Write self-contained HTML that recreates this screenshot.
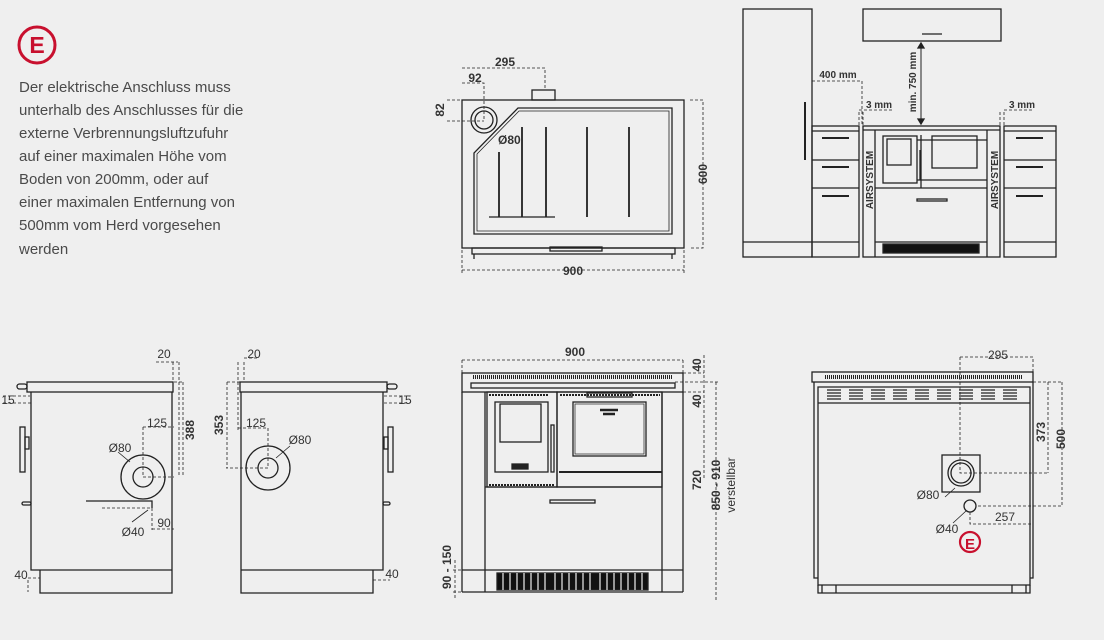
<!DOCTYPE html>
<html><head><meta charset="utf-8"><style>
html,body{margin:0;padding:0;background:#efefef}
svg{display:block}
.t{font-family:"Liberation Sans",sans-serif;font-weight:bold;font-size:12px;fill:#333}
.p{font-family:"Liberation Sans",sans-serif;font-size:15px;fill:#4a4a4a}
</style></head><body>
<svg width="1104" height="640" viewBox="0 0 1104 640" xmlns="http://www.w3.org/2000/svg">
<rect width="1104" height="640" fill="#efefef"/>
<!-- E logo -->
<circle cx="37" cy="45" r="18" fill="none" stroke="#c8102e" stroke-width="3"/>
<text x="37" y="53" text-anchor="middle" font-family="Liberation Sans" font-weight="bold" font-size="23" fill="#c8102e">E</text>
<g class="p">
<text x="19" y="92">Der elektrische Anschluss muss</text>
<text x="19" y="115">unterhalb des Anschlusses für die</text>
<text x="19" y="138">externe Verbrennungsluftzufuhr</text>
<text x="19" y="161">auf einer maximalen Höhe vom</text>
<text x="19" y="184">Boden von 200mm, oder auf</text>
<text x="19" y="207">einer maximalen Entfernung von</text>
<text x="19" y="230">500mm vom Herd vorgesehen</text>
<text x="19" y="254">werden</text>
</g>

<g fill="none" stroke="#222" stroke-width="1.3">
<!-- TOP VIEW -->
<rect x="462" y="100" width="222" height="148"/>
<rect x="532" y="90" width="23" height="10"/>
<path d="M474 234 V153 L518 108 H672 V234 Z"/>
<path d="M477 231 V154 L519 111 H669 V231 Z" stroke-width="0.8"/>
<circle cx="484" cy="120" r="13"/><circle cx="484" cy="120" r="9"/>
<path d="M499 152V217M522 127V217M546 127V217M587 127V217M629 127V217" stroke-width="1.8"/>
<path d="M489 217H555"/>
<rect x="472" y="248" width="203" height="6"/>
<rect x="550" y="247" width="52" height="4"/>
<path d="M474 254v5M672 254v5"/>
<!-- dims top -->
<g stroke-width="0.8" stroke-dasharray="3,2">
<path d="M462 68H545V90M462 83H484V120M447 100H462M447 121H484M690 100H703V248H690M462 250V274M684 250V274M462 270H684"/>
</g>

<!-- KITCHEN -->
<rect x="743" y="9" width="69" height="248"/>
<path d="M743 242H812"/>
<path d="M805 102V160" stroke-width="2"/>
<rect x="863" y="9" width="138" height="32"/>
<path d="M922 34H942"/>
<rect x="812" y="126" width="47" height="131"/>
<path d="M812 131H859M812 160H859M812 188H859M812 242H859"/>
<path d="M822 138H849M822 167H849M822 196H849" stroke-width="2"/>
<rect x="1004" y="126" width="52" height="131"/>
<path d="M1004 131H1056M1004 160H1056M1004 188H1056M1004 242H1056"/>
<path d="M1016 138H1043M1016 167H1043M1016 196H1043" stroke-width="2"/>
<rect x="863" y="126" width="137" height="131"/>
<path d="M863 130H1000M875 130V257M987 130V257M875 188H987M875 242H987"/>
<rect x="883" y="136" width="34" height="47"/><rect x="887" y="139" width="24" height="26"/>
<path d="M920 150V180M921 135V188"/>
<rect x="932" y="136" width="45" height="32"/>
<path d="M917 180H987M917 140H987"/>
<rect x="917" y="199" width="30" height="2"/>
<rect x="883" y="244" width="96" height="9" fill="#111"/>
<path d="M921 44V123" stroke-width="1"/>
<path d="M918 48L921 43L924 48Z M918 119L921 124L924 119Z" fill="#222"/>
<g stroke-width="0.8" stroke-dasharray="3,2">
<path d="M812 81H862V126M859 112V126M863 112V126M859 110H892M1000 112V126M1004 112V126M1004 110H1034"/>
</g>

<!-- FRONT VIEW -->
<rect x="462" y="373" width="221" height="19"/>
<path d="M473 377H672" stroke-width="4" stroke-dasharray="1,1"/>
<rect x="471" y="383" width="204" height="5"/>
<path d="M462 392V592M683 392V592M485 392V592M662 392V592M462 592H683M462 570H485M662 570H683"/>
<rect x="487" y="392" width="70" height="95"/>
<rect x="495" y="402" width="53" height="70"/><rect x="500" y="404" width="41" height="38"/>
<rect x="551" y="425" width="3" height="47"/>
<rect x="512" y="464" width="16" height="5" fill="#222"/>
<path d="M489 395H548M489 485H554" stroke-width="2" stroke-dasharray="2,1"/>
<rect x="557" y="392" width="105" height="95"/>
<rect x="573" y="402" width="73" height="54"/><rect x="575" y="404" width="69" height="50" stroke-width="0.7"/>
<path d="M559 472H662" stroke-width="2"/>
<path d="M560 395H660" stroke-width="2" stroke-dasharray="2,1"/>
<rect x="587" y="393" width="45" height="4"/>
<path d="M600 410L618 410M603 414H615" stroke-width="2.5"/>
<path d="M485 487H662M485 570H662"/>
<rect x="550" y="500" width="45" height="3"/>
<rect x="497" y="573" width="151" height="17" fill="#111"/>
<path d="M503 573V590M510 573V590M517 573V590M524 573V590M531 573V590M538 573V590M545 573V590M555 573V590M562 573V590M569 573V590M576 573V590M583 573V590M590 573V590M600 573V590M607 573V590M614 573V590M621 573V590M628 573V590M635 573V590M642 573V590" stroke="#efefef" stroke-width="1.2"/>
<g stroke-width="0.8" stroke-dasharray="3,2">
<path d="M462 360H683M462 360V373M683 360V373M683 373H704M683 392H704M704 355V480M675 382H720M716 382V600M453 570H462M453 592H462M455 560V600"/>
</g>

<!-- SIDE VIEW LEFT -->
<rect x="27" y="382" width="146" height="10"/>
<path d="M31 392V570H172V392M40 570V593H172V570"/>
<rect x="20" y="427" width="5" height="45"/><rect x="25" y="437" width="4" height="12"/>
<rect x="17" y="384" width="10" height="5" rx="2.5"/><rect x="22" y="502" width="9" height="3" rx="1.5"/>
<circle cx="143" cy="477" r="22"/><circle cx="143" cy="477" r="10"/>
<path d="M86 501H152V508"/>
<g stroke-width="0.8" stroke-dasharray="3,2">
<path d="M143 427V477H174M143 427H174M183 382V477M174 382H184M102 508H152M152 508V530M152 529H174M173 362V382M179 362V477M156 362H178M3 396H30M3 403H31M28 578H40M28 580V592"/>
</g>
<path d="M130 462L118 452M148 510L132 522" stroke-width="0.8"/>

<!-- SIDE VIEW RIGHT -->
<rect x="240" y="382" width="147" height="10"/>
<path d="M241 392V570H383V392M241 570V593H373V570"/>
<rect x="388" y="427" width="5" height="45"/><rect x="384" y="437" width="4" height="12"/>
<rect x="387" y="384" width="10" height="5" rx="2.5"/><rect x="383" y="502" width="7" height="3" rx="1.5"/>
<circle cx="268" cy="468" r="22"/><circle cx="268" cy="468" r="10"/>
<g stroke-width="0.8" stroke-dasharray="3,2">
<path d="M268 428V468H226M238 428H268M227 382V468M227 382H241M238 362V430M244 362V382M244 358H257M384 396H410M384 403H410M373 580H390"/>
</g>
<path d="M276 458L290 446" stroke-width="0.8"/>

<!-- BACK VIEW -->
<rect x="812" y="372" width="221" height="10"/>
<path d="M825 377H1022" stroke-width="4" stroke-dasharray="1,1"/>
<path d="M818 387H1030V585H818Z M818 403H1030 M814 382V578H818 M1033 382V578H1030"/>
<path d="M818 585V593H1030V585M822 585V593M1026 585V593M836 585V593M1012 585V593"/>
<g stroke-width="1.3">
<path d="M827 390h14M827 393h14M827 396h14M827 399h14 M849 390h14M849 393h14M849 396h14M849 399h14 M871 390h14M871 393h14M871 396h14M871 399h14 M893 390h14M893 393h14M893 396h14M893 399h14 M915 390h14M915 393h14M915 396h14M915 399h14 M937 390h14M937 393h14M937 396h14M937 399h14 M959 390h14M959 393h14M959 396h14M959 399h14 M981 390h14M981 393h14M981 396h14M981 399h14 M1003 390h14M1003 393h14M1003 396h14M1003 399h14"/>
</g>
<rect x="942" y="455" width="38" height="37"/>
<circle cx="961" cy="473" r="13"/><circle cx="961" cy="473" r="10"/>
<circle cx="970" cy="506" r="6"/>
<path d="M955 488L945 497M966 511L953 523" stroke-width="0.8"/>
<g stroke-width="0.8" stroke-dasharray="3,2">
<path d="M960 357V473H1048M960 357H1033V372M1033 382H1062M1048 382V473M1062 382V506H976M970 512V524H1033"/>
</g>
</g>
<circle cx="970" cy="542" r="10" fill="none" stroke="#c8102e" stroke-width="2.2"/>
<text x="970" y="549" text-anchor="middle" font-family="Liberation Sans" font-weight="bold" font-size="15" fill="#c8102e">E</text>

<g class="t">
<text x="505" y="66" text-anchor="middle">295</text>
<text x="475" y="82" text-anchor="middle">92</text>
<text transform="translate(444,110) rotate(-90)" text-anchor="middle">82</text>
<text x="498" y="144">Ø80</text>
<text transform="translate(707,174) rotate(-90)" text-anchor="middle">600</text>
<text x="573" y="275" text-anchor="middle" style="background:#efefef">900</text>
<text x="838" y="78" text-anchor="middle" font-size="10">400 mm</text>
<text x="879" y="108" text-anchor="middle" font-size="10">3 mm</text>
<text x="1022" y="108" text-anchor="middle" font-size="10">3 mm</text>
<text transform="translate(916,82) rotate(-90)" text-anchor="middle" font-size="10">min. 750 mm</text>
<text transform="translate(873,180) rotate(-90)" text-anchor="middle" font-size="10">AIRSYSTEM</text>
<text transform="translate(998,180) rotate(-90)" text-anchor="middle" font-size="10">AIRSYSTEM</text>
<text x="575" y="356" text-anchor="middle">900</text>
<text transform="translate(701,365) rotate(-90)" text-anchor="middle">40</text>
<text transform="translate(701,401) rotate(-90)" text-anchor="middle">40</text>
<text transform="translate(701,480) rotate(-90)" text-anchor="middle">720</text>
<text transform="translate(720,485) rotate(-90)" text-anchor="middle">850 - 910</text>
<text transform="translate(735,485) rotate(-90)" text-anchor="middle" font-weight="normal">verstellbar</text>
<text transform="translate(451,567) rotate(-90)" text-anchor="middle">90 - 150</text>
<text x="164" y="358" text-anchor="middle" font-weight="normal">20</text>
<text x="8" y="404" text-anchor="middle" font-weight="normal">15</text>
<text x="157" y="427" text-anchor="middle" font-weight="normal">125</text>
<text transform="translate(194,430) rotate(-90)" text-anchor="middle">388</text>
<text x="120" y="452" text-anchor="middle" font-weight="normal">Ø80</text>
<text x="164" y="527" text-anchor="middle" font-weight="normal">90</text>
<text x="133" y="536" text-anchor="middle" font-weight="normal">Ø40</text>
<text x="21" y="579" text-anchor="middle" font-weight="normal">40</text>
<text x="254" y="358" text-anchor="middle" font-weight="normal">20</text>
<text x="405" y="404" text-anchor="middle" font-weight="normal">15</text>
<text x="256" y="427" text-anchor="middle" font-weight="normal">125</text>
<text transform="translate(223,425) rotate(-90)" text-anchor="middle">353</text>
<text x="300" y="444" text-anchor="middle" font-weight="normal">Ø80</text>
<text x="392" y="578" text-anchor="middle" font-weight="normal">40</text>
<text x="998" y="359" text-anchor="middle" font-weight="normal">295</text>
<text transform="translate(1045,432) rotate(-90)" text-anchor="middle">373</text>
<text transform="translate(1065,439) rotate(-90)" text-anchor="middle">500</text>
<text x="928" y="499" text-anchor="middle" font-weight="normal">Ø80</text>
<text x="1005" y="521" text-anchor="middle" font-weight="normal">257</text>
<text x="947" y="533" text-anchor="middle" font-weight="normal">Ø40</text>
</g>
</svg>
</body></html>
